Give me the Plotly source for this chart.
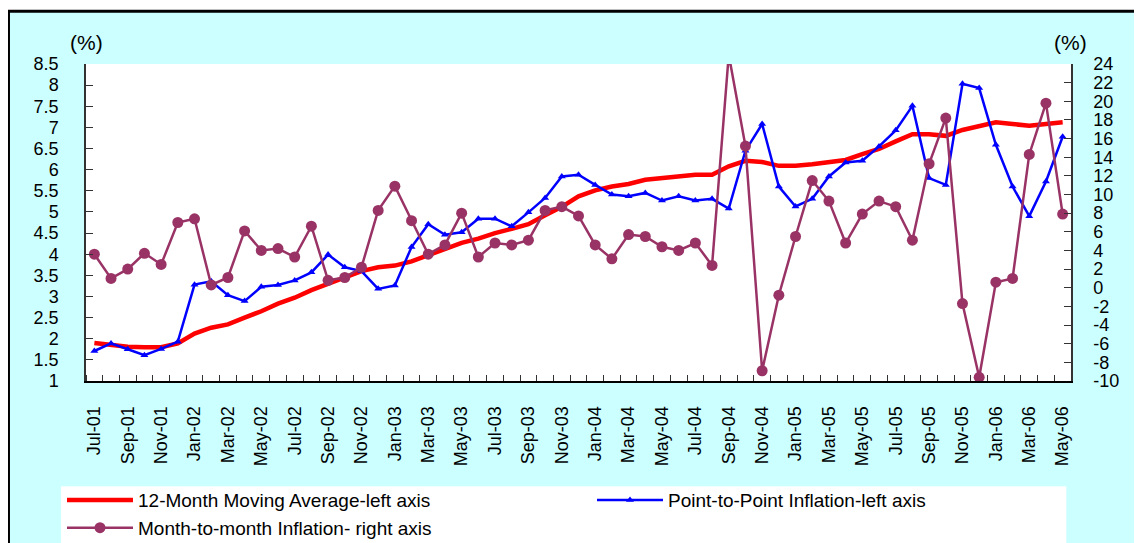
import pandas as pd
import plotly.graph_objects as go

# Months Jul-01 .. May-06
months = list(pd.date_range("2001-07-01", periods=59, freq="MS").strftime("%b-%y"))

# 12-month moving average (left axis, %)
ma_12m = [1.90, 1.85, 1.81, 1.80, 1.80, 1.89, 2.12, 2.26, 2.34, 2.50, 2.65, 2.83,
          2.97, 3.15, 3.30, 3.45, 3.60, 3.69, 3.73, 3.83, 3.97, 4.12, 4.27, 4.37,
          4.50, 4.60, 4.71, 4.92, 5.12, 5.37, 5.51, 5.60, 5.66, 5.76, 5.80, 5.84,
          5.88, 5.88, 6.08, 6.21, 6.18, 6.09, 6.09, 6.13, 6.18, 6.23, 6.37, 6.49,
          6.67, 6.84, 6.84, 6.80, 6.94, 7.04, 7.12, 7.08, 7.04, 7.08, 7.12]

# Point-to-point inflation (left axis, %)
p2p = [1.71, 1.89, 1.75, 1.61, 1.76, 1.93, 3.28, 3.36, 3.03, 2.89, 3.23, 3.27,
       3.38, 3.57, 3.99, 3.69, 3.60, 3.18, 3.26, 4.17, 4.71, 4.46, 4.52, 4.84,
       4.84, 4.66, 4.99, 5.33, 5.84, 5.88, 5.64, 5.41, 5.37, 5.45, 5.27, 5.37,
       5.27, 5.31, 5.08, 6.45, 7.08, 5.60, 5.13, 5.31, 5.84, 6.17, 6.21, 6.55,
       6.93, 7.51, 5.80, 5.64, 8.03, 7.93, 6.59, 5.60, 4.90, 5.72, 6.78]

# Month-to-month inflation, annualised (right axis, %)
m2m = [3.6, 1.0, 2.0, 3.7, 2.5, 7.0, 7.4, 0.3, 1.1, 6.1, 4.0, 4.2,
       3.3, 6.6, 0.8, 1.1, 2.2, 8.3, 10.9, 7.2, 3.6, 4.6, 8.0, 3.3,
       4.8, 4.6, 5.1, 8.3, 8.7, 7.7, 4.6, 3.1, 5.7, 5.5, 4.4, 4.0,
       4.8, 2.4, 25.0, 15.2, -8.9, -0.8, 5.5, 11.5, 9.3, 4.8, 7.9, 9.3,
       8.7, 5.1, 13.3, 18.2, -1.7, -9.6, 0.6, 1.0, 14.3, 19.8, 7.9]

left_ticks = [1, 1.5, 2, 2.5, 3, 3.5, 4, 4.5, 5, 5.5, 6, 6.5, 7, 7.5, 8, 8.5]
right_ticks = list(range(-10, 25, 2))

x_idx = list(range(len(months)))

FONT = "Liberation Sans, Arial, sans-serif"
CYAN = "#CCFFFF"

fig = go.Figure()

fig.add_trace(go.Scatter(
    x=x_idx, y=ma_12m, name="12-Month Moving Average-left axis",
    mode="lines", line=dict(color="#FF0000", width=4.5),
))
fig.add_trace(go.Scatter(
    x=x_idx, y=p2p, name="Point-to-Point Inflation-left axis",
    mode="lines+markers", line=dict(color="#0000FF", width=2.5),
    marker=dict(symbol="triangle-up", size=7, color="#0000FF"),
))
fig.add_trace(go.Scatter(
    x=x_idx, y=m2m, name="Month-to-month Inflation- right axis", yaxis="y2",
    mode="lines+markers", line=dict(color="#993366", width=2.5),
    marker=dict(symbol="circle", size=11, color="#993366"),
))

# the page body adds an 8px margin, so the figure is drawn 8px in from the corner
OFF = 8
FIG_W, FIG_H = 1142 - OFF, 543 - OFF
# plot area on the page: x 86..1070.7, y 63.5..381.5
L, T = 86 - OFF, 63.5 - OFF
W, H = 984.7, 318
R, B = FIG_W - L - W, FIG_H - T - H


# page pixel -> paper coordinates
def px(x):
    return (x - 86) / W


def py(y):
    return (381.5 - y) / H


shapes = [
    # white strip above the frame + black frame edges
    dict(type="rect", xref="paper", yref="paper", x0=px(-20), x1=px(1200), y0=py(9.3), y1=py(-20),
         fillcolor="white", line_width=0, layer="below"),
    dict(type="line", xref="paper", yref="paper", x0=px(OFF), x1=px(1200), y0=py(10.7), y1=py(10.7),
         line=dict(color="black", width=3), layer="below"),
    dict(type="line", xref="paper", yref="paper", x0=px(OFF + 1), x1=px(OFF + 1), y0=py(9.3), y1=py(600),
         line=dict(color="black", width=2), layer="below"),
    # legend box
    dict(type="rect", xref="paper", yref="paper", x0=px(61), x1=px(1066), y0=py(600), y1=py(487),
         fillcolor="white", line_width=0, layer="below"),
]

annotations = [
    dict(text="(%)", xref="paper", yref="paper", x=px(86), y=py(42), showarrow=False,
         xanchor="center", yanchor="middle",
         font=dict(size=21, family=FONT, color="black")),
    dict(text="(%)", xref="paper", yref="paper", x=px(1070), y=py(42), showarrow=False,
         xanchor="center", yanchor="middle",
         font=dict(size=21, family=FONT, color="black")),
]

fig.update_layout(
    width=FIG_W, height=FIG_H,
    margin=dict(l=L, r=R, t=T, b=B, autoexpand=False),
    paper_bgcolor=CYAN, plot_bgcolor="white",
    font=dict(family=FONT, size=18, color="black"),
    showlegend=True,
    legend=dict(
        orientation="h", x=px(62), xanchor="left", y=py(482), yanchor="top",
        bgcolor="rgba(0,0,0,0)", font=dict(size=19, family=FONT),
        entrywidth=449, itemwidth=66, tracegroupgap=0,
    ),
    shapes=shapes,
    annotations=annotations,
    xaxis=dict(
        range=[-0.5, len(months) - 0.5], tickmode="array",
        tickvals=x_idx[::2], ticktext=months[::2], tickangle=-90,
        ticks="", ticklabelstandoff=16,
        showline=True, linecolor="black", linewidth=2,
        showgrid=False, zeroline=False,
        minor=dict(ticks="inside", tick0=-0.5, dtick=1, ticklen=6,
                   tickcolor="#333333", tickwidth=1, showgrid=False),
    ),
    yaxis=dict(
        range=[1, 8.5], tickmode="array", tickvals=left_ticks,
        ticktext=[f"{v:g}" for v in left_ticks],
        ticks="inside", ticklen=7, tickcolor="#333333",
        showline=True, linecolor="#333333", linewidth=1.5,
        showgrid=False, zeroline=False, ticklabelstandoff=22,
    ),
    yaxis2=dict(
        range=[-10, 24], overlaying="y", side="right", anchor="x",
        tickmode="array", tickvals=right_ticks,
        ticktext=[str(v) for v in right_ticks],
        ticks="inside", ticklen=7, tickcolor="#333333",
        showline=True, linecolor="#333333", linewidth=1.5,
        showgrid=False, zeroline=False, ticklabelstandoff=17,
    ),
)

fig.write_html("out.html")
